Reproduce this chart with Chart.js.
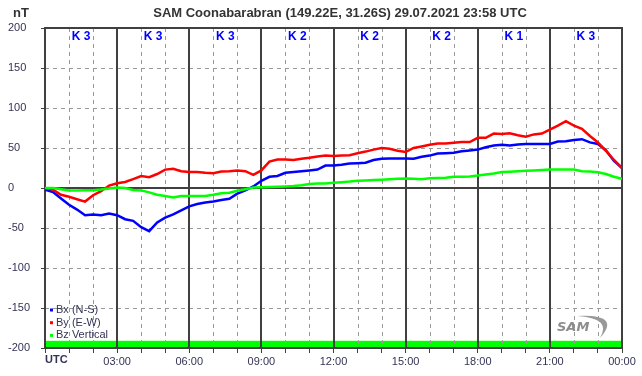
<!DOCTYPE html>
<html>
<head>
<meta charset="utf-8">
<script src="https://cdn.jsdelivr.net/npm/chart.js@4.4.0/dist/chart.umd.min.js"></script>
<style>
  html, body { margin: 0; padding: 0; background: #fff; }
</style>
</head>
<body>
<canvas id="myChart" width="642" height="376"></canvas>
<script>
// Data (minutes after 00:00 UTC, values in nT)
const minutes = [0,20,40,60,80,100,120,140,160,180,200,220,240,260,280,300,320,340,360,380,400,420,440,460,
  480,500,520,540,560,580,600,620,640,660,680,700,720,740,760,780,800,820,840,860,880,900,920,940,
  960,980,1000,1020,1040,1060,1080,1100,1120,1140,1160,1180,1200,1220,1240,1260,1280,1300,1320,1340,1360,1380,1400,1420,1440]

const bx = [-2,-5,-13, -21,-27,-34, -33,-34,-32, -34,-39,-41, -49,-54,-43, -37,-33,-28, -23,-20,-18, -17,-15,-13.5,
  -7,-3,2, 9,14,15, 19,20,21, 22,23,28, 28,29,30.5, 31,31.5,35, 36.5,37,37, 37,36.5,39,
  40.5,43,43.5, 44,46,47, 48,51,53, 54,53,54.5, 55,55,55, 55,58,58.5, 60,61,57, 55,47,34, 25]

const by = [0,-2,-8.5, -11,-14,-17, -9,-4,3, 6,7.5,11, 15,13.5,17.5, 23,24,21, 20,20,19, 18.5,20.5,21,
  22,21,16.5, 22,33,35.6, 35.6,35,36.5, 37.7,39.5,40.6, 40,40.5,41, 43.5,45.5,48, 50,49,46.5, 45,50,52,
  54,55.6,55.5, 56.5,57.5,57.5, 62.7,62.7,68, 67.5,68.5,66, 64,67,68, 73,78,83.5, 78,74,65, 57,46.5,35, 25]

const bz = [0,0,-1.5, -3,-3,-2.7, -2.7,-2,-0.5, 0.5,0,-2.5, -3,-5.5,-8.5, -10,-12,-10, -10,-10,-10, -8.5,-6.5,-6,
  -3.5,-1.5,0.5, 1,1.2,1.5, 2,2.6,3.5, 5,5.6,5.6, 6.5,7.3,8, 9,9.5,10, 10.3,10.8,11.5, 11.9,11.5,11,
  12.3,12.6,12.9, 14,14.2,14.5, 15.5,17,18, 20,20.3,20.8, 21.5,22,22.5, 23,23,23, 23,21,20.5, 19.8,17.5,14, 11.5]

const kIndex = [3, 3, 3, 2, 2, 2, 1, 3]
const timeLabels = ['UTC', '03:00', '06:00', '09:00', '12:00', '15:00', '18:00', '21:00', '00:00']
const seriesNames = ['Bx (N-S)', 'By (E-W)', 'Bz Vertical']
const bandRange = [-200, -191]

const titleText = 'SAM Coonabarabran (149.22E, 31.26S) 29.07.2021 23:58 UTC'
const colors = ['#0000ff', '#ff0000', '#00ff00']
const textColor = '#333355'
const fontFamily = '"Liberation Sans", Arial, sans-serif'

Chart.defaults.font.family = fontFamily

function toPoints(values) {
  return minutes.map((m, i) => ({ x: m, y: values[i] }))
}

// Grid, band, labels and logo
const framePlugin = {
  id: 'frame',
  beforeDatasetsDraw(chart) {
    const { ctx, chartArea: a, scales: { x, y } } = chart
    ctx.save()
    // green band at the bottom
    const yb0 = y.getPixelForValue(bandRange[0])
    const yb1 = y.getPixelForValue(bandRange[1])
    ctx.fillStyle = '#00ff00'
    ctx.fillRect(a.left, yb1, a.right - a.left, yb0 - yb1)

    // dashed grid
    ctx.strokeStyle = '#999'
    ctx.lineWidth = 1
    ctx.setLineDash([4, 4])
    for (let h = 0; h <= 24; h++) {
      if (h % 3 === 0) continue
      const px = Math.round(x.getPixelForValue(h * 60)) + 0.5
      ctx.beginPath()
      ctx.moveTo(px, a.top)
      ctx.lineTo(px, a.bottom)
      ctx.stroke()
    }
    for (let v = -150; v <= 150; v += 50) {
      if (v === 0) continue
      const py = Math.round(y.getPixelForValue(v)) + 0.5
      ctx.beginPath()
      ctx.moveTo(a.left, py)
      ctx.lineTo(a.right, py)
      ctx.stroke()
    }
    // solid lines
    ctx.setLineDash([])
    ctx.strokeStyle = '#404040'
    ctx.lineWidth = 2
    for (let h = 0; h <= 24; h += 3) {
      const px = Math.round(x.getPixelForValue(h * 60))
      ctx.beginPath()
      ctx.moveTo(px, a.top - 1)
      ctx.lineTo(px, a.bottom + 1)
      ctx.stroke()
    }
    for (const v of [-200, 0, 200]) {
      const py = Math.round(y.getPixelForValue(v))
      ctx.beginPath()
      ctx.moveTo(a.left, py)
      ctx.lineTo(a.right, py)
      ctx.stroke()
    }
    ctx.restore()
  },
  afterDraw(chart) {
    const { ctx, chartArea: a, scales: { x, y } } = chart
    ctx.save()
    // title
    ctx.fillStyle = '#333'
    ctx.font = 'bold 13px ' + fontFamily
    ctx.textAlign = 'center'
    ctx.textBaseline = 'middle'
    ctx.fillText(titleText, 340, 13)
    ctx.textAlign = 'left'
    ctx.fillText('nT', 13, 13)

    // UTC label
    ctx.font = 'bold 11px ' + fontFamily
    ctx.fillStyle = textColor
    ctx.fillText(timeLabels[0], a.left, 360)

    // K index
    ctx.font = 'bold 12px ' + fontFamily
    ctx.fillStyle = '#0000ff'
    ctx.textAlign = 'center'
    kIndex.forEach((k, i) => {
      ctx.fillText('K ' + k, x.getPixelForValue(i * 180 + 90), a.top + 9)
    })

    // legend
    ctx.font = '11px ' + fontFamily
    ctx.textAlign = 'left'
    seriesNames.forEach((name, i) => {
      const ly = 310 + i * 12.7
      ctx.fillStyle = colors[i]
      ctx.fillRect(a.left + 5, ly - 1.5, 3, 3)
      ctx.fillStyle = textColor
      ctx.fillText(name, a.left + 11, ly)
    })

    // SAM logo
    ctx.fillStyle = '#8c8c8c'
    ctx.font = 'italic bold 13px "DejaVu Sans", sans-serif'
    ctx.fillText('SAM', 557, 328)
    ctx.beginPath()
    ctx.moveTo(577, 316)
    ctx.quadraticCurveTo(622, 314, 600, 338)
    ctx.quadraticCurveTo(612, 318, 577, 316)
    ctx.fillStyle = '#999'
    ctx.fill()
    ctx.restore()
  }
}

let ctx = document.getElementById('myChart').getContext('2d')
let chart = new Chart(ctx, {
  type: 'line',
  data: {
    datasets: [bx, by, bz].map((vals, i) => ({
      label: seriesNames[i],
      data: toPoints(vals),
      borderColor: colors[i],
      borderWidth: 2.5,
      pointRadius: 0,
      tension: 0,
      fill: false,
      order: 3 - i
    }))
  },
  options: {
    responsive: false,
    animation: false,
    devicePixelRatio: 1,
    layout: { padding: { left: 8, top: 28, right: 20, bottom: 0 } },
    plugins: { legend: { display: false }, tooltip: { enabled: false } },
    scales: {
      x: {
        type: 'linear',
        min: 0,
        max: 1440,
        afterFit: s => { s.height = 28 },
        border: { display: false },
        grid: { drawOnChartArea: false, tickLength: 5, color: '#404040' },
        ticks: {
          stepSize: 60,
          maxTicksLimit: 30,
          autoSkip: false,
          maxRotation: 0,
          padding: 2,
          color: textColor,
          font: { size: 11 },
          callback: v => (v % 180 === 0 && v > 0) ? timeLabels[v / 180] : ''
        }
      },
      y: {
        min: -200,
        max: 200,
        afterFit: s => { s.width = 37 },
        border: { display: false },
        grid: { drawOnChartArea: false, tickLength: 4, color: '#404040' },
        ticks: {
          stepSize: 50,
          crossAlign: 'far',
          color: textColor,
          font: { size: 11 }
        }
      }
    }
  },
  plugins: [framePlugin]
})
</script>
</body>
</html>
